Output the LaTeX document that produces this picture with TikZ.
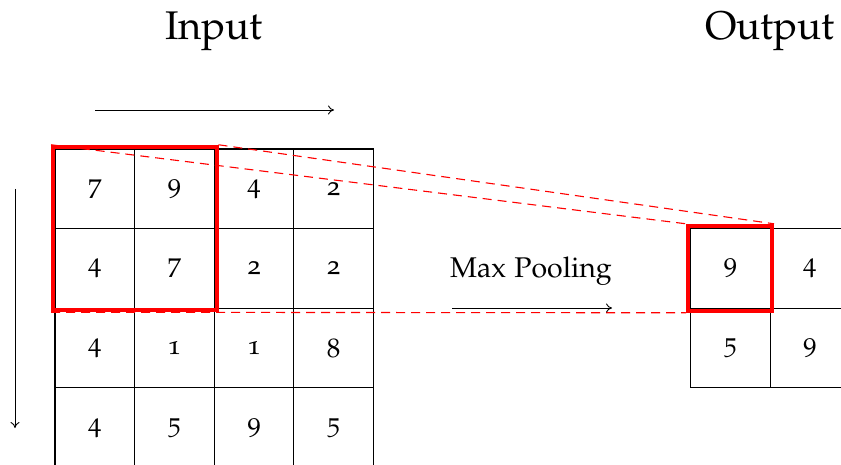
\documentclass[tikz,border=0pt]{standalone}
\usepackage[T1]{fontenc}
\usepackage[osf]{mathpazo}
\usetikzlibrary{arrows.meta}
\begin{document}
\begin{tikzpicture}[x=1pt,y=-1pt,
  cell/.style={draw=black, line width=1.2pt, minimum size=79.6pt, inner sep=0pt, outer sep=0pt, font=\fontsize{27}{30}\selectfont},
  pool/.style={draw=red, line width=4pt, inner sep=0pt},
  link/.style={red, line width=1.1pt, dash pattern=on 9pt off 6pt},
  dirarrow/.style={line width=0.9pt, -{To[length=6pt,width=9pt]}},
  title/.style={font=\fontsize{40}{44}\selectfont, anchor=base},
  label/.style={font=\fontsize{28.5}{32}\selectfont, anchor=base}]
\clip (0,0) rectangle (841,465);
% titles
\node[title] (tin) at (214,40) {Input};
\node[title] (tout) at (770,40) {Output};
% input grid
\foreach \r/\row in {0/{7,9,4,2},1/{4,7,2,2},2/{4,1,1,8},3/{4,5,9,5}}{
  \foreach \v [count=\c from 0] in \row {
    \node[cell] (in-\r-\c) at ({55+79.6*(\c+0.5)},{149+79.6*(\r+0.5)}) {\v};
  }
}
% output grid
\foreach \r/\row in {0/{9,4},1/{5,9}}{
  \foreach \v [count=\c from 0] in \row {
    \node[cell] (out-\r-\c) at ({690.5+79.6*(\c+0.5)},{228.5+79.6*(\r+0.5)}) {\v};
  }
}
% pooling windows
\node[pool, minimum size=163.5pt] (inred) at (134.75,228.5) {};
\node[pool, minimum width=84pt, minimum height=85pt] (outred) at (730,268.3) {};
% links
\draw[link] (inred.north west) -- (outred.north west);
\draw[link] (inred.north east) -- (outred.north east);
\draw[link] (inred.south west) -- (outred.south west);
% direction arrows
\coordinate (h1) at (95,110);
\coordinate (h2) at (334,110);
\draw[dirarrow] (h1) -- (h2);
\coordinate (v1) at (15,189);
\coordinate (v2) at (15,428);
\draw[dirarrow] (v1) -- (v2);
% max pooling
\node[label] (mp) at (531,277) {Max Pooling};
\coordinate (m1) at (452,308);
\coordinate (m2) at (612,308);
\draw[dirarrow] (m1) -- (m2);
\end{tikzpicture}
\end{document}
